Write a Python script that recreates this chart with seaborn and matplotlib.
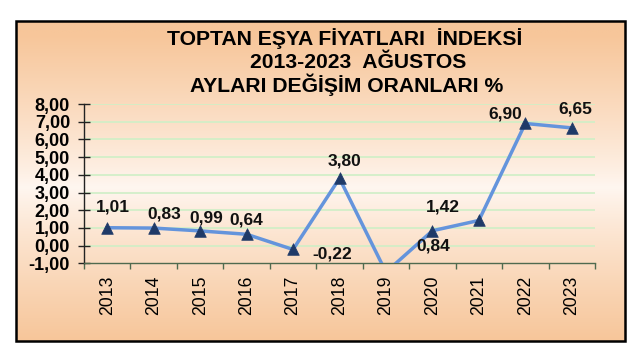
import numpy as np
import pandas as pd
import matplotlib
matplotlib.use("Agg")
import matplotlib.pyplot as plt
import seaborn as sns
from matplotlib.ticker import FuncFormatter, FixedLocator
from matplotlib.patches import Rectangle

# ---------------- data ----------------
years = ["2013", "2014", "2015", "2016", "2017", "2018",
         "2019", "2020", "2021", "2022", "2023"]
values = [1.01, 0.99, 0.83, 0.64, -0.22, 3.80, -1.50, 0.84, 1.42, 6.90, 6.65]

# data labels as printed on the chart (year they are attached to, text)
label_years = ["2013", "2014", "2015", "2016", "2017", "2018", "2020", "2020", "2022", "2023"]
label_texts = ["1,01", "0,83", "0,99", "0,64", "-0,22", "3,80", "1,42", "0,84", "6,90", "6,65"]

title_lines = ["TOPTAN EŞYA FİYATLARI  İNDEKSİ", "2013-2023  AĞUSTOS", "AYLARI DEĞİŞİM ORANLARI %"]
y_ticks = [-1, 0, 1, 2, 3, 4, 5, 6, 7, 8]

# ---------------- style ----------------
label_offsets_px = [(6, 21), (11, 14), (6, 13), (0, 14), (39, -5), (5, 17),
                    (10, 24), (1, -15), (-20, 9), (4, 19)]

plt.rcParams['font.family'] = ['Liberation Sans', 'DejaVu Sans']

W, H = 644, 358
fig = plt.figure(figsize=(W / 100, H / 100), dpi=100)
fig.patch.set_facecolor("white")

def fx(px):
    return px / W

def fy(py):
    return 1 - py / H

# background frame with gradient
fl, fr, ft, fb = 16, 625, 21, 341
bg = fig.add_axes([fx(fl), fy(fb), fx(fr - fl), (fb - ft) / H], zorder=0)
ny, nx = 200, 10
t = np.linspace(0, 1, ny)[:, None] * np.ones((1, nx))
w = np.clip(np.abs(t - 0.52) / 0.48, 0, 1) ** 0.85
peach = np.array([247, 198, 154]) / 255
light = np.array([255, 247, 241]) / 255
img = light[None, None, :] * (1 - w[..., None]) + peach[None, None, :] * w[..., None]
bg.imshow(img, aspect="auto", extent=[0, 1, 0, 1], interpolation="bilinear")
bg.set_xlim(0, 1)
bg.set_ylim(0, 1)
bg.axis("off")
bg.add_patch(Rectangle((0, 0), 1, 1, transform=bg.transAxes, fill=False,
                       edgecolor="black", linewidth=1.8, clip_on=False))

# main axes
al, ar, at, ab = 84, 595, 104, 263.3
ax = fig.add_axes([fx(al), fy(ab), fx(ar - al), (ab - at) / H], zorder=2)
ax.set_facecolor("none")

df = pd.DataFrame({"year": years, "value": values})
sns.lineplot(data=df, x="year", y="value", ax=ax, color="#6494DC",
             linewidth=2.5, zorder=3, sort=False)
sns.scatterplot(data=df, x="year", y="value", ax=ax, marker="^", s=70,
                color="#1F3A68", edgecolor="#1F3A68", linewidth=0.5, zorder=4)

ax.set_xlim(-0.5, len(years) - 0.5)
ax.set_ylim(-1, 8)

# grid lines
for yv in y_ticks[1:]:
    ax.axhline(yv, color="#CFEFC6", linewidth=1.2, zorder=1)

# spines
for s in ["top", "right"]:
    ax.spines[s].set_visible(False)
ax.spines["left"].set_color("#222222")
ax.spines["left"].set_linewidth(1.0)
ax.spines["bottom"].set_color("#4F6A4F")
ax.spines["bottom"].set_linewidth(1.0)

# y ticks
ax.yaxis.set_major_locator(FixedLocator(y_ticks))
ax.yaxis.set_major_formatter(FuncFormatter(lambda v, p: f"{v:.2f}".replace(".", ",")))
ax.tick_params(axis="y", direction="inout", length=8, width=1.0, color="#222222",
               labelsize=13, pad=6)
for lab in ax.get_yticklabels():
    lab.set_fontweight("bold")

# x ticks: labels at centers, tick marks at boundaries
ax.set_xticks(range(len(years)))
ax.set_xticklabels(years, rotation=90, fontsize=12.7)
ax.tick_params(axis="x", which="major", length=0, pad=9)
ax.xaxis.set_minor_locator(FixedLocator(np.arange(-0.5, len(years), 1.0)))
ax.tick_params(axis="x", which="minor", direction="out", length=4, width=1.0, color="#4F6A4F")
ax.set_xlabel("")
ax.set_ylabel("")

# data labels
pos = {y: i for i, y in enumerate(years)}
for yr, txt, (dx, dy) in zip(label_years, label_texts, label_offsets_px):
    i = pos[yr]
    ax.annotate(txt, xy=(i, values[i]), xytext=(dx, dy), textcoords="offset pixels",
                ha="center", va="center", fontsize=12.5, fontweight="bold",
                color="#111111", annotation_clip=False, zorder=5)

# title
title_pos = [(344.5, 39), (358, 63), (346.5, 85)]
for line, (px, py) in zip(title_lines, title_pos):
    fig.text(fx(px), fy(py), line, ha="center", va="center", fontsize=15.2,
             fontweight="bold", color="black", zorder=5)

fig.savefig("out.png", dpi=100)
